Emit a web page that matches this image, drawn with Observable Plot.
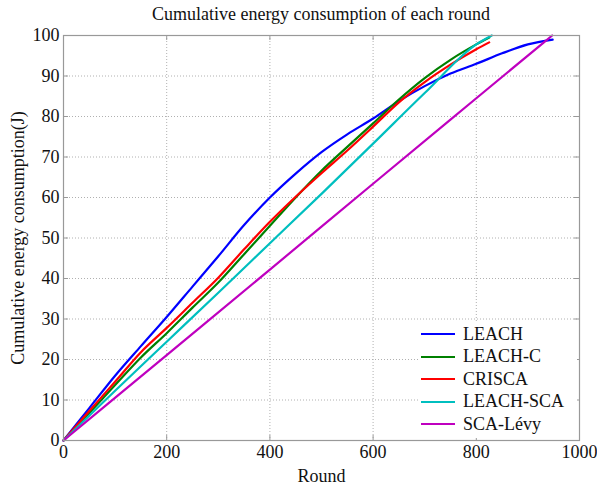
<!DOCTYPE html>
<html>
<head>
<meta charset="utf-8">
<script src="https://cdn.jsdelivr.net/npm/d3@7"></script>
<script src="https://cdn.jsdelivr.net/npm/@observablehq/plot@0.6"></script>
<style>
  body { margin: 0; background: #fff; font-family: "Liberation Serif", "Times New Roman", serif; }
  #wrap { position: relative; width: 597px; height: 487px; overflow: hidden; }
  #title { position: absolute; left: 63px; width: 516px; top: 3px; text-align: center; font-size: 18px; line-height: 22px; color: #111; }
  #chart { position: absolute; left: 0; top: 28px; }
  #chart svg text { font-family: "Liberation Serif", "Times New Roman", serif; }
  #legend { position: absolute; left: 418px; top: 322px; width: 159px; height: 116px; background: #fff; }
  .row { position: absolute; left: 3px; height: 22px; display: flex; align-items: center; font-size: 18px; color: #111; white-space: nowrap; }
  .swatch { width: 34px; height: 0; border-top: 2.5px solid; margin-right: 8px; }
</style>
</head>
<body>
<div id="wrap">
  <div id="title"></div>
  <div id="chart"></div>
  <div id="legend"></div>
</div>
<script>
const titleText = "Cumulative energy consumption of each round";
const xLabel = "Round";
const yLabel = "Cumulative energy consumption(J)";
const xTicks = [0, 200, 400, 600, 800, 1000];
const yTicks = [0, 10, 20, 30, 40, 50, 60, 70, 80, 90, 100];

const seriesNames = ["LEACH", "LEACH-C", "CRISCA", "LEACH-SCA", "SCA-Lévy"];

const leachRound = [0, 50, 100, 150, 200, 250, 300, 350, 400, 450, 500, 550, 600, 650, 700, 750, 800, 850, 900, 948];
const leachEnergy = [0, 8, 16, 23.3, 30.5, 38, 45.5, 53.2, 60, 65.9, 71.2, 75.6, 79.5, 83.8, 87.5, 90.6, 93, 95.6, 97.8, 99];

const leachCRound = [0, 50, 100, 150, 200, 250, 300, 350, 400, 450, 500, 550, 600, 650, 700, 750, 800, 825];
const leachCEnergy = [0, 6.8, 13.7, 20.5, 26.5, 32.8, 39, 46, 53, 60, 66.6, 72.5, 78.3, 84.2, 89.5, 94, 97.8, 99.5];

const criscaRound = [0, 50, 100, 150, 200, 250, 300, 350, 400, 450, 500, 550, 600, 650, 700, 750, 800, 825];
const criscaEnergy = [0, 7.3, 14.5, 21.8, 27.8, 34, 40.2, 47.2, 54, 60.2, 66, 71.6, 77.5, 83.5, 88.5, 92.8, 96.6, 98.3];

const leachScaRound = [0, 100, 200, 300, 400, 500, 600, 700, 800, 830];
const leachScaEnergy = [0, 12.3, 24.4, 36.5, 48.7, 60.9, 73.3, 85.8, 97.8, 100];

const scaLevyRound = [0, 200, 400, 600, 800, 947];
const scaLevyEnergy = [0, 21.1, 42.2, 63.4, 84.5, 100];

// styles
const seriesColors = ["#0000ff", "#008000", "#ff0000", "#00bfbf", "#bf00bf"];

const seriesData = [
  [leachRound, leachEnergy],
  [leachCRound, leachCEnergy],
  [criscaRound, criscaEnergy],
  [leachScaRound, leachScaEnergy],
  [scaLevyRound, scaLevyEnergy]
];
const rows = seriesData.flatMap(([xs, ys], i) =>
  xs.map((r, j) => ({series: seriesNames[i], round: r, energy: ys[j]})));

document.getElementById("title").textContent = titleText;

const fmt = d => String(d);
const plot = Plot.plot({
  width: 597,
  height: 459,
  marginTop: 7,
  marginBottom: 47,
  marginLeft: 63,
  marginRight: 18,
  style: 'font-family: "Liberation Serif", "Times New Roman", serif; font-size: 18px; color: #111; background: transparent; overflow: visible;',
  x: {domain: [0, 1000], label: null},
  y: {domain: [0, 100], label: null},
  color: {domain: seriesNames, range: seriesColors},
  marks: [
    Plot.gridX(xTicks, {stroke: "#b0b0b0", strokeOpacity: 1, strokeDasharray: "1,2"}),
    Plot.gridY(yTicks, {stroke: "#b0b0b0", strokeOpacity: 1, strokeDasharray: "1,2"}),
    Plot.axisX(xTicks, {tickSize: 0, tickPadding: 5, tickFormat: fmt, label: null, fontSize: 18}),
    Plot.axisY(yTicks, {tickSize: 0, tickPadding: 4, tickFormat: fmt, label: null, fontSize: 18}),
    Plot.tickX(xTicks, {x: d => d, stroke: "#999", insetTop: 400}),
    Plot.tickX(xTicks, {x: d => d, stroke: "#999", insetBottom: 400}),
    Plot.tickY(yTicks, {y: d => d, stroke: "#999", insetRight: 511}),
    Plot.tickY(yTicks, {y: d => d, stroke: "#999", insetLeft: 511}),
    Plot.line(rows, {x: "round", y: "energy", z: "series", stroke: "series", strokeWidth: 2.2, curve: "monotone-x"}),
    Plot.frame({stroke: "#999", strokeWidth: 1.2}),
    Plot.text([xLabel], {frameAnchor: "bottom", dy: 36, textAnchor: "middle", lineAnchor: "middle", fill: "#111", fontSize: 18}),
    Plot.text([yLabel], {frameAnchor: "left", dx: -45, rotate: -90, textAnchor: "middle", lineAnchor: "middle", fill: "#111", fontSize: 18})
  ]
});
document.getElementById("chart").appendChild(plot);

const legend = d3.select("#legend");
seriesNames.forEach((name, i) => {
  const row = legend.append("div").attr("class", "row").style("top", (1 + i * 22.5) + "px");
  row.append("div").attr("class", "swatch").style("border-color", seriesColors[i]);
  row.append("span").text(name);
});
</script>
</body>
</html>
